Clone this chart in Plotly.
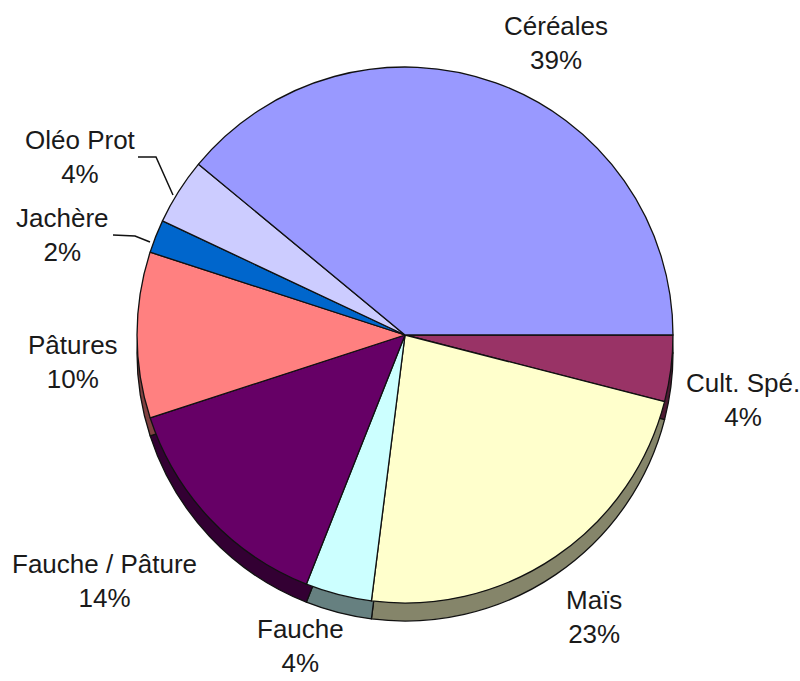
import plotly.graph_objects as go

# Surface shares by crop type (percent), clockwise from 3 o'clock
categories = ["Cult. Spé.", "Maïs", "Fauche", "Fauche / Pâture",
              "Pâtures", "Jachère", "Oléo Prot", "Céréales"]
shares = [4, 23, 4, 14, 10, 2, 4, 39]

top_colors = ["#993366", "#FFFFCC", "#CCFFFF", "#660066",
              "#FF8080", "#0066CC", "#CCCCFF", "#9999FF"]
side_colors = ["#4D1A33", "#85856A", "#668080", "#330033",
               "#804040", "#003366", "#666680", "#4D4D80"]

W, H = 800, 681
CX, CY, R = 405, 335, 268   # pie centre / radius in pixels
DEPTH = 18                  # thickness of the pie edge


def dom(cx, cy, r):
    return dict(x=[(cx - r) / W, (cx + r) / W],
                y=[(H - cy - r) / H, (H - cy + r) / H])


fig = go.Figure()

# lower copy gives the visible edge of the disc
fig.add_trace(go.Pie(
    labels=categories, values=shares, sort=False,
    direction="clockwise", rotation=90,
    marker=dict(colors=side_colors, line=dict(color="#111111", width=1.3)),
    textinfo="none", hoverinfo="skip", showlegend=False,
    domain=dom(CX, CY + DEPTH, R),
))

# top face
fig.add_trace(go.Pie(
    labels=categories, values=shares, sort=False,
    direction="clockwise", rotation=90,
    marker=dict(colors=top_colors, line=dict(color="#111111", width=1.3)),
    textinfo="none", showlegend=False,
    domain=dom(CX, CY, R),
))

# label anchor positions (pixel centres of each two-line label)
label_pos = {
    "Cult. Spé.": (743, 400),
    "Maïs": (594, 617),
    "Fauche": (300, 646),
    "Fauche / Pâture": (104, 581),
    "Pâtures": (73, 362),
    "Jachère": (62, 235),
    "Oléo Prot": (80, 157),
    "Céréales": (556, 43),
}

for name, val in zip(categories, shares):
    px, py = label_pos[name]
    fig.add_annotation(
        x=px / W, y=1 - py / H, xref="paper", yref="paper",
        text=f"{name}<br>{val}%", showarrow=False,
        xanchor="center", yanchor="middle", align="center",
        font=dict(family="Liberation Sans, Arial, sans-serif",
                  size=26, color="#1a1a1a"),
    )

# leader lines for the two thin slices
leaders = [
    [(138, 157), (156, 157), (173, 195)],
    [(113, 235), (135, 236), (150, 242)],
]
for pts in leaders:
    path = "M " + " L ".join(f"{x / W},{1 - y / H}" for x, y in pts)
    fig.add_shape(type="path", xref="paper", yref="paper", path=path,
                  line=dict(color="#111111", width=1.5))

fig.update_layout(
    width=W, height=H,
    margin=dict(l=0, r=0, t=0, b=0),
    paper_bgcolor="white", plot_bgcolor="white",
)

fig.write_html("out.html")
